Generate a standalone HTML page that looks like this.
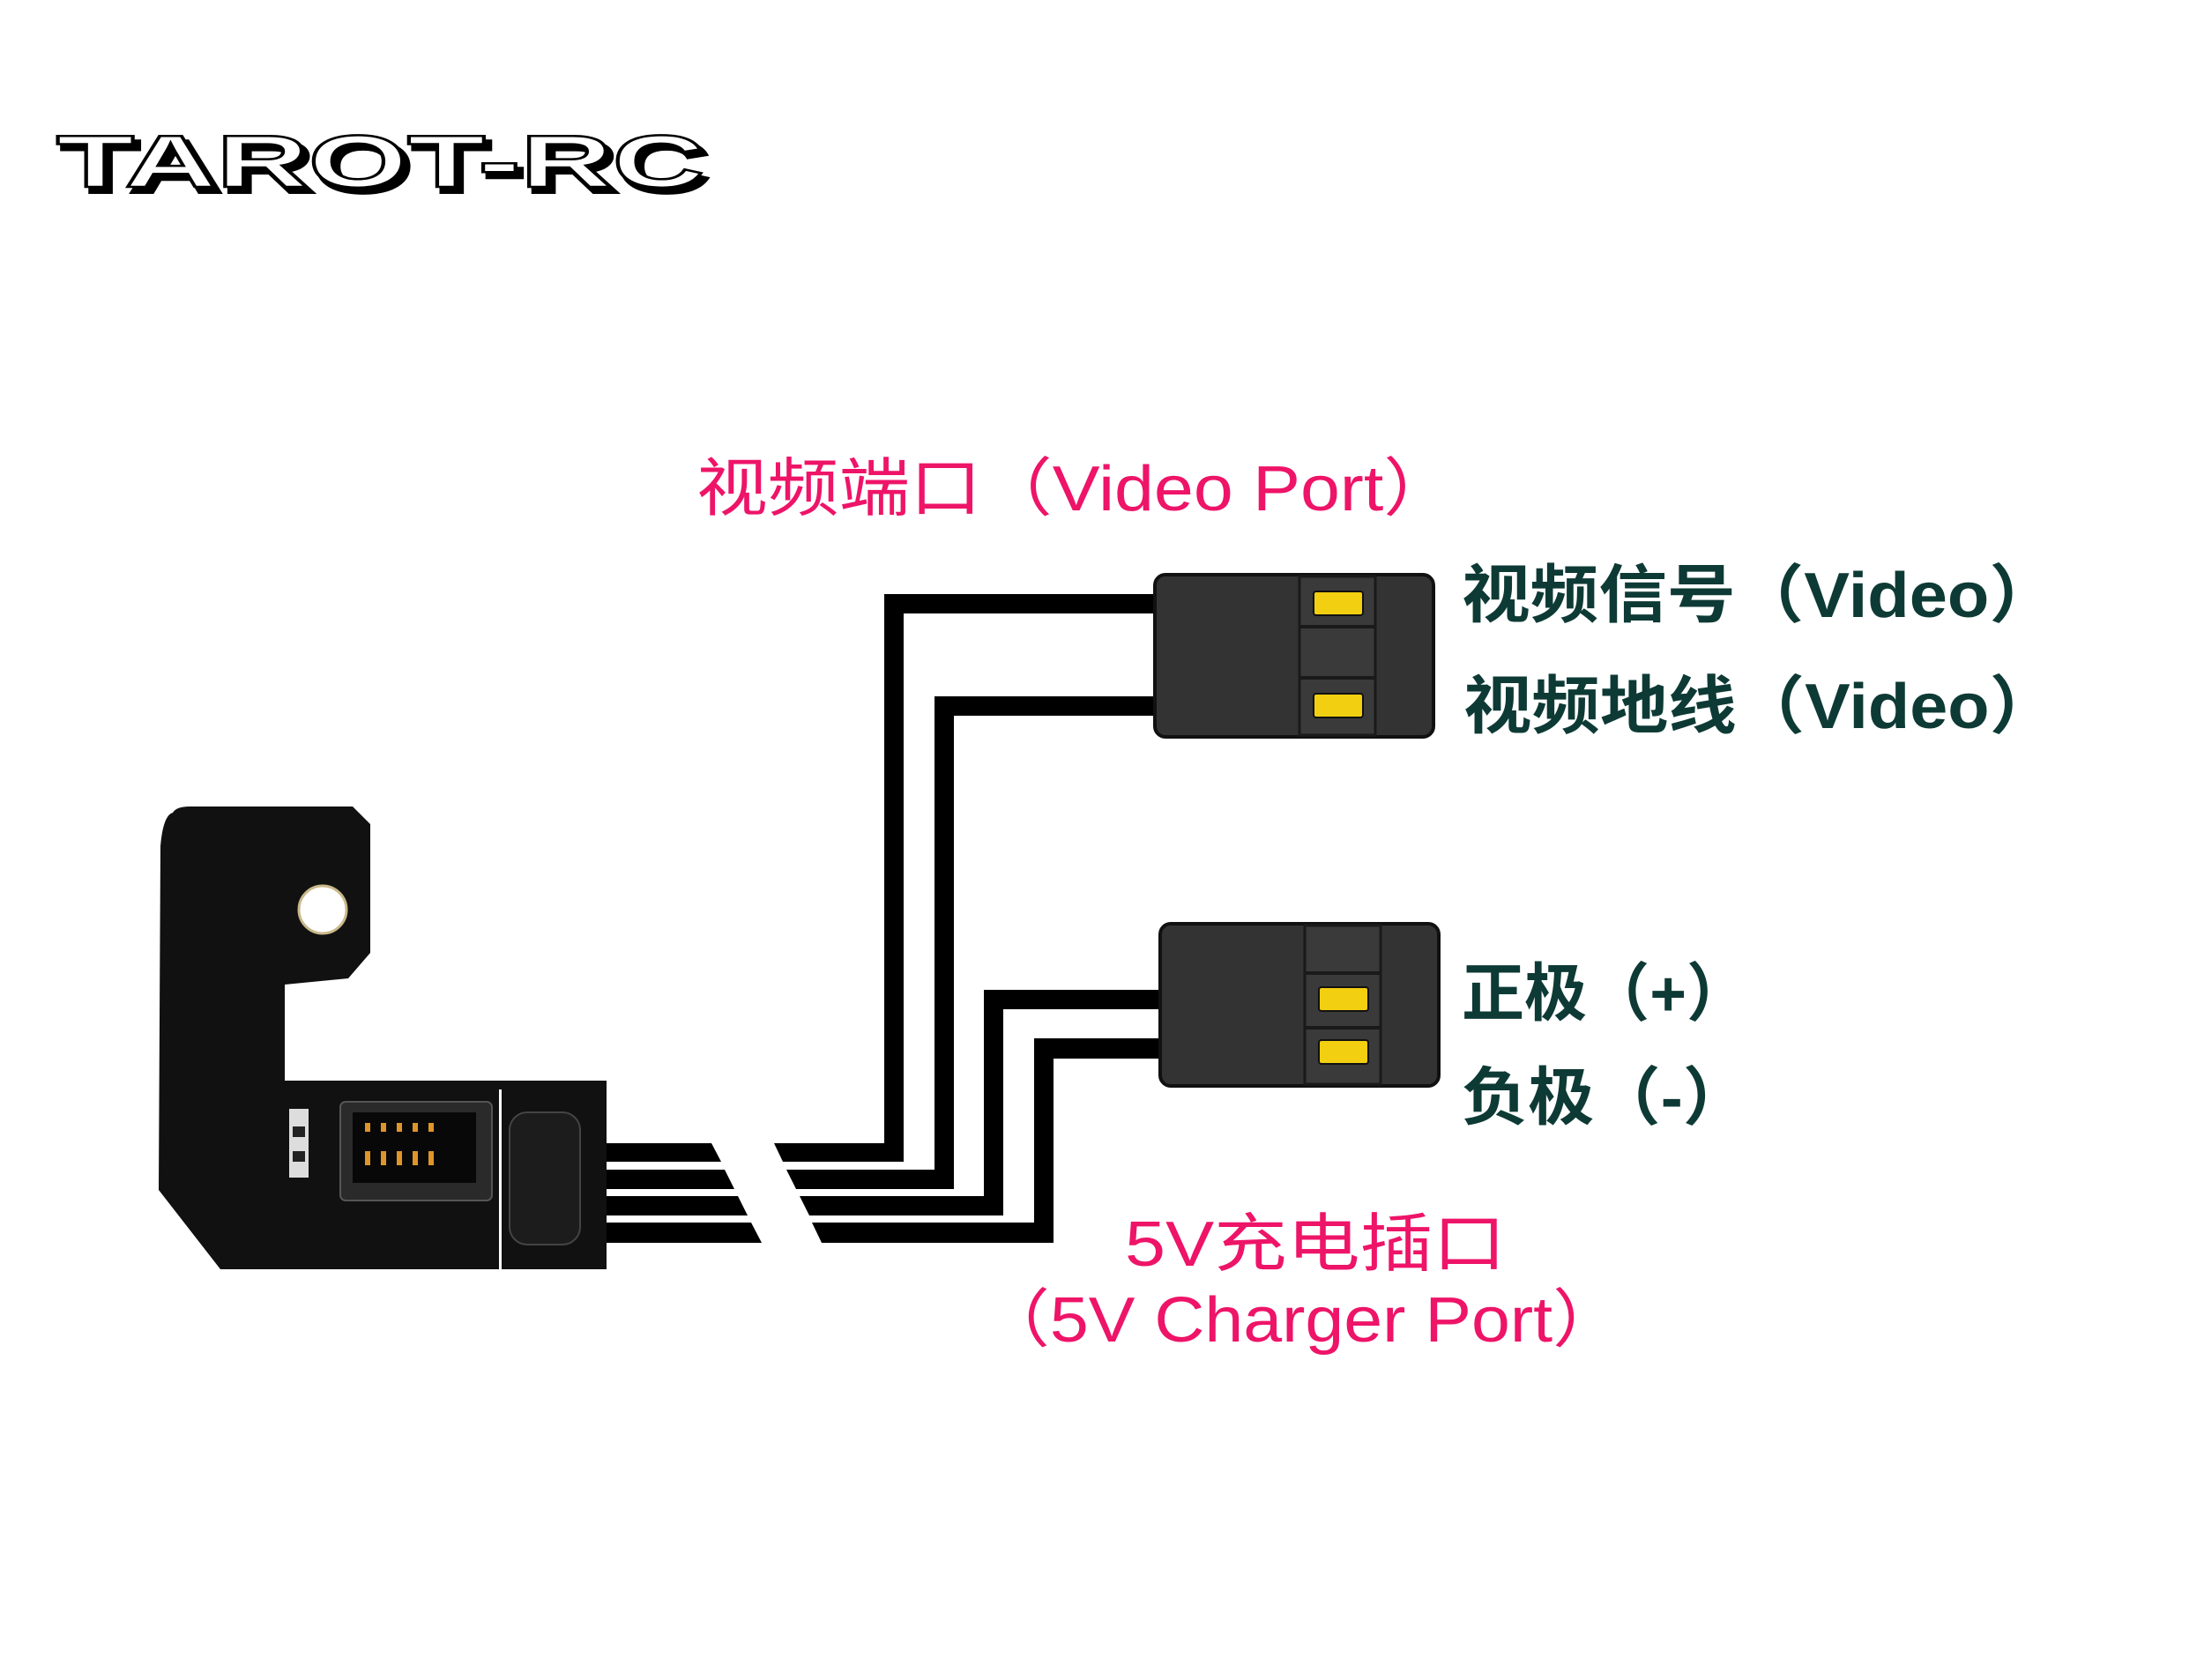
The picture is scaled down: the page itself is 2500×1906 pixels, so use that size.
<!DOCTYPE html>
<html><head><meta charset="utf-8"><style>
html,body{margin:0;padding:0;background:#fff;}
svg{display:block;}
.cn{font-family:"Liberation Sans","Noto Sans CJK SC",sans-serif;}
</style></head><body>
<svg width="2500" height="1906" viewBox="0 0 2500 1906" xmlns="http://www.w3.org/2000/svg">
<!-- logo -->
<g font-family="Liberation Sans, sans-serif" font-weight="bold" font-size="84">
<text x="70" y="218" textLength="735" lengthAdjust="spacingAndGlyphs" fill="#000" stroke="#000" stroke-width="4">TAROT-RC</text>
<text x="64" y="212" textLength="735" lengthAdjust="spacingAndGlyphs" fill="#fff" stroke="#000" stroke-width="2.5">TAROT-RC</text>
</g>

<!-- PCB board -->
<path d="M196,922 Q200,915 215,915 L400,915 L420,935 L420,1081 L395,1110 L323,1117 L323,1226 L688,1226 L688,1440 L250,1440 L180,1350 L182,960 Q185,925 196,922 Z" fill="#111"/>
<circle cx="366" cy="1032" r="27" fill="#fff"/>
<circle cx="366" cy="1032" r="27" fill="none" stroke="#c9b88a" stroke-width="3"/>
<rect x="328" y="1258" width="22" height="78" fill="#ddd"/>
<rect x="332" y="1278" width="14" height="12" fill="#222"/>
<rect x="332" y="1306" width="14" height="12" fill="#222"/>
<rect x="386" y="1250" width="172" height="112" rx="6" fill="#2a2a2a" stroke="#555" stroke-width="2"/>
<rect x="400" y="1262" width="140" height="80" fill="#080808"/>
<g fill="#e0952a">
<rect x="414" y="1274" width="6" height="10"/><rect x="432" y="1274" width="6" height="10"/><rect x="450" y="1274" width="6" height="10"/><rect x="468" y="1274" width="6" height="10"/><rect x="486" y="1274" width="6" height="10"/>
<rect x="414" y="1306" width="6" height="16"/><rect x="432" y="1306" width="6" height="16"/><rect x="450" y="1306" width="6" height="16"/><rect x="468" y="1306" width="6" height="16"/><rect x="486" y="1306" width="6" height="16"/>
</g>
<rect x="566" y="1236" width="3" height="204" fill="#fff"/>
<rect x="578" y="1262" width="80" height="150" rx="20" fill="#1c1c1c" stroke="#444" stroke-width="2"/>

<!-- left stubs -->
<g fill="#000">
<polygon points="688,1297 807,1297 818,1318 688,1318"/>
<polygon points="688,1327 822,1327 833,1349 688,1349"/>
<polygon points="688,1357 837,1357 848,1379 688,1379"/>
<polygon points="688,1387 852,1387 864,1410 688,1410"/>
</g>
<!-- right wires -->
<g fill="#000">
<polygon points="878,1297 1003,1297 1003,674 1312,674 1312,696 1025,696 1025,1318 888,1318"/>
<polygon points="892,1327 1060,1327 1060,790 1312,790 1312,812 1082,812 1082,1349 903,1349"/>
<polygon points="907,1357 1116,1357 1116,1123 1318,1123 1318,1145 1138,1145 1138,1379 918,1379"/>
<polygon points="921,1387 1173,1387 1173,1178 1318,1178 1318,1201 1195,1201 1195,1410 932,1410"/>
</g>

<!-- connector 1 -->
<rect x="1310" y="652" width="316" height="184" rx="12" fill="#333" stroke="#111" stroke-width="4"/>
<rect x="1474" y="654" width="86" height="180" fill="#3a3a3a" stroke="#1a1a1a" stroke-width="3"/>
<line x1="1474" y1="711" x2="1560" y2="711" stroke="#1a1a1a" stroke-width="4"/>
<line x1="1474" y1="769" x2="1560" y2="769" stroke="#1a1a1a" stroke-width="4"/>
<rect x="1490" y="671" width="56" height="27" rx="3" fill="#f2cf10" stroke="#111" stroke-width="2"/>
<rect x="1490" y="787" width="56" height="27" rx="3" fill="#f2cf10" stroke="#111" stroke-width="2"/>

<!-- connector 2 -->
<rect x="1316" y="1048" width="316" height="184" rx="12" fill="#333" stroke="#111" stroke-width="4"/>
<rect x="1480" y="1050" width="86" height="180" fill="#3a3a3a" stroke="#1a1a1a" stroke-width="3"/>
<line x1="1480" y1="1104" x2="1566" y2="1104" stroke="#1a1a1a" stroke-width="4"/>
<line x1="1480" y1="1166" x2="1566" y2="1166" stroke="#1a1a1a" stroke-width="4"/>
<rect x="1496" y="1120" width="56" height="27" rx="3" fill="#f2cf10" stroke="#111" stroke-width="2"/>
<rect x="1496" y="1180" width="56" height="27" rx="3" fill="#f2cf10" stroke="#111" stroke-width="2"/>

<!-- labels -->
<g class="cn" font-size="72">
<text x="790" y="579" fill="#ee1468" textLength="860" lengthAdjust="spacingAndGlyphs">视频端口（Video Port）</text>
<text x="1658" y="700" fill="#0e3a35" textLength="676" lengthAdjust="spacingAndGlyphs" font-weight="bold">视频信号（Video）</text>
<text x="1660" y="826" fill="#0e3a35" textLength="674" lengthAdjust="spacingAndGlyphs" font-weight="bold">视频地线（Video）</text>
<text x="1658" y="1152" fill="#0e3a35" textLength="326" lengthAdjust="spacingAndGlyphs" font-weight="bold">正极（+）</text>
<text x="1658" y="1270" fill="#0e3a35" textLength="326" lengthAdjust="spacingAndGlyphs" font-weight="bold">负极（-）</text>
<text x="1276" y="1436" fill="#ee1468" textLength="432" lengthAdjust="spacingAndGlyphs">5V充电插口</text>
<text x="1112" y="1522" fill="#ee1468" textLength="728" lengthAdjust="spacingAndGlyphs">（5V Charger Port）</text>
</g>
</svg>
</body></html>
